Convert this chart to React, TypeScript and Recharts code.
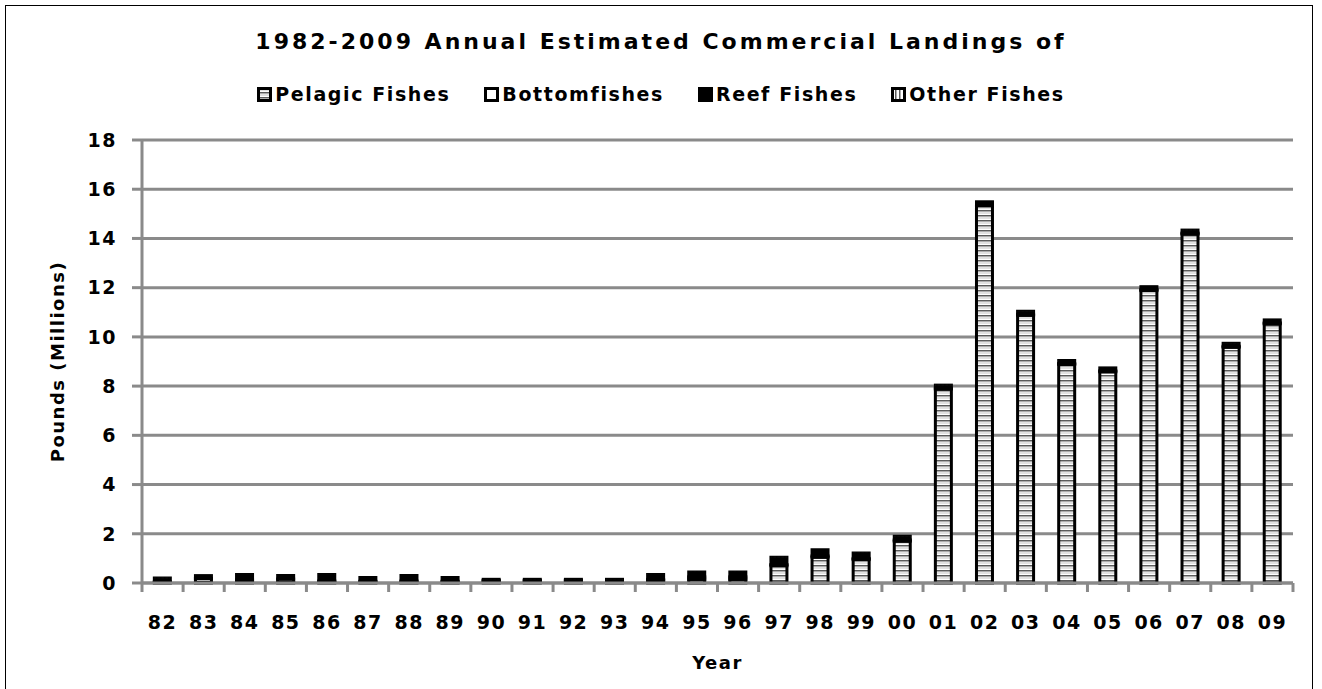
import { BarChart, Bar, XAxis, YAxis, CartesianGrid, Legend } from "recharts";

const years = [
  "82", "83", "84", "85", "86", "87", "88", "89", "90", "91", "92", "93", "94", "95",
  "96", "97", "98", "99", "00", "01", "02", "03", "04", "05", "06", "07", "08", "09",
];
const pelagic = [
  0.02, 0.03, 0.03, 0.03, 0.03, 0.03, 0.03, 0.03, 0.08, 0.08, 0.08, 0.08, 0.1, 0.15,
  0.15, 0.7, 1.05, 0.95, 1.7, 7.88, 15.33, 10.88, 8.88, 8.58, 11.88, 14.18, 9.58, 10.53,
];
const bottomfish = [
  0.03, 0.15, 0.1, 0.13, 0.05, 0.04, 0.05, 0.04, 0.02, 0.02, 0.02, 0.02, 0.05, 0.1,
  0.1, 0.05, 0.05, 0.05, 0.05, 0.04, 0.04, 0.04, 0.04, 0.04, 0.04, 0.04, 0.04, 0.04,
];
const reef = [
  0.15, 0.12, 0.22, 0.14, 0.27, 0.15, 0.22, 0.15, 0.05, 0.05, 0.05, 0.05, 0.2, 0.2,
  0.2, 0.3, 0.25, 0.22, 0.15, 0.12, 0.12, 0.12, 0.12, 0.12, 0.12, 0.12, 0.12, 0.12,
];
const other = [
  0.01, 0.01, 0.01, 0.01, 0.01, 0.01, 0.01, 0.01, 0.01, 0.01, 0.01, 0.01, 0.01, 0.01,
  0.01, 0.01, 0.01, 0.01, 0.01, 0.01, 0.01, 0.01, 0.01, 0.01, 0.01, 0.01, 0.01, 0.01,
];
const yTicks = [0, 2, 4, 6, 8, 10, 12, 14, 16, 18];

const data = years.map((year, i) => ({
  year,
  pelagic: pelagic[i],
  bottomfish: bottomfish[i],
  reef: reef[i],
  other: other[i],
}));

const FONT = "'DejaVu Sans', Verdana, sans-serif";
const GRID = "#8a8a8a";

const legendItems = [
  { name: "Pelagic Fishes", fill: "url(#pelagicPat)" },
  { name: "Bottomfishes", fill: "#fff" },
  { name: "Reef Fishes", fill: "#000" },
  { name: "Other Fishes", fill: "url(#otherPat)" },
];

const LegendBox = () => (
  <div
    style={{
      display: "flex",
      justifyContent: "center",
      gap: 34,
      fontFamily: FONT,
      fontWeight: "bold",
      fontSize: 19,
      letterSpacing: 1.6,
      lineHeight: "22px",
    }}
  >
    {legendItems.map((it) => (
      <span key={it.name} style={{ display: "flex", alignItems: "center" }}>
        <svg width={15} height={15} style={{ marginRight: 3 }}>
          <rect x={1.5} y={1.5} width={12} height={12} fill={it.fill} stroke="#000" strokeWidth={3} />
        </svg>
        {it.name}
      </span>
    ))}
  </div>
);

const XTick = (props: any) => {
  const { x, y, payload, index, width, visibleTicksCount } = props;
  const step = width / visibleTicksCount;
  return (
    <g>
      <line x1={x - step / 2} x2={x - step / 2} y1={y} y2={y + 9} stroke={GRID} strokeWidth={3} />
      {index === visibleTicksCount - 1 && (
        <line x1={x + step / 2} x2={x + step / 2} y1={y} y2={y + 9} stroke={GRID} strokeWidth={3} />
      )}
      <text
        x={x}
        y={y + 46}
        textAnchor="middle"
        fontFamily={FONT}
        fontWeight="bold"
        fontSize={19}
        letterSpacing={1.5}
        fill="#000"
      >
        {payload.value}
      </text>
    </g>
  );
};

export default function App() {
  return (
    <div style={{ position: "absolute", left: 0, top: 0, width: 1322, height: 689, background: "#fff" }}>
      <div
        style={{
          position: "absolute",
          left: 5,
          top: 5,
          width: 1308,
          height: 700,
          border: "1.5px solid #000",
          boxSizing: "border-box",
        }}
      />
      <div
        style={{
          position: "absolute",
          top: 28,
          left: 0,
          width: 1322,
          textAlign: "center",
          fontFamily: FONT,
          fontWeight: "bold",
          fontSize: 22,
          lineHeight: "28px",
          letterSpacing: 3,
        }}
      >
        1982-2009 Annual Estimated Commercial Landings of
      </div>
      <BarChart
        width={1322}
        height={689}
        data={data}
        margin={{ top: 140, right: 29, bottom: 46, left: 82 }}
        barCategoryGap="30%"
        style={{ position: "absolute", left: 0, top: 0 }}
      >
        <defs>
          <pattern id="pelagicPat" patternUnits="userSpaceOnUse" width={6} height={5}>
            <rect width={6} height={5} fill="#fff" />
            <rect y={0} width={6} height={1.5} fill="#5a5a5a" />
            <rect y={2.5} width={6} height={1} fill="#c4c4c4" />
          </pattern>
          <pattern id="otherPat" patternUnits="userSpaceOnUse" width={4} height={4}>
            <rect width={4} height={4} fill="#fff" />
            <rect x={0} width={1.5} height={4} fill="#5a5a5a" />
          </pattern>
        </defs>
        <CartesianGrid vertical={false} stroke={GRID} strokeWidth={3} />
        <XAxis
          dataKey="year"
          stroke={GRID}
          strokeWidth={3}
          tickLine={false}
          tickSize={0}
          tickMargin={0}
          height={60}
          tick={<XTick />}
          interval={0}
          label={{
            value: "Year",
            position: "insideBottom",
            offset: -26,
            fontFamily: FONT,
            fontWeight: "bold",
            fontSize: 18,
            letterSpacing: 1.5,
            fill: "#000",
          }}
        />
        <YAxis
          domain={[0, 18]}
          ticks={yTicks}
          width={60}
          stroke={GRID}
          strokeWidth={3}
          tickSize={10}
          tickMargin={15}
          tick={{ fontFamily: FONT, fontWeight: "bold", fontSize: 19, letterSpacing: 1.5, fill: "#000" }}
          label={{
            value: "Pounds (Millions)",
            angle: -90,
            position: "insideLeft",
            offset: -24,
            style: { textAnchor: "middle" },
            fontFamily: FONT,
            fontWeight: "bold",
            fontSize: 18,
            letterSpacing: 1.5,
            fill: "#000",
          }}
        />
        <Legend
          layout="horizontal"
          verticalAlign="middle"
          wrapperStyle={{ top: 83, left: 0, width: 1322 }}
          content={<LegendBox />}
        />
        <Bar dataKey="pelagic" name="Pelagic Fishes" stackId="a" fill="url(#pelagicPat)" stroke="#000" strokeWidth={3} isAnimationActive={false} />
        <Bar dataKey="bottomfish" name="Bottomfishes" stackId="a" fill="#fff" stroke="#000" strokeWidth={3} isAnimationActive={false} />
        <Bar dataKey="reef" name="Reef Fishes" stackId="a" fill="#000" stroke="#000" strokeWidth={3} isAnimationActive={false} />
        <Bar dataKey="other" name="Other Fishes" stackId="a" fill="url(#otherPat)" stroke="#000" strokeWidth={1} isAnimationActive={false} />
      </BarChart>
    </div>
  );
}
